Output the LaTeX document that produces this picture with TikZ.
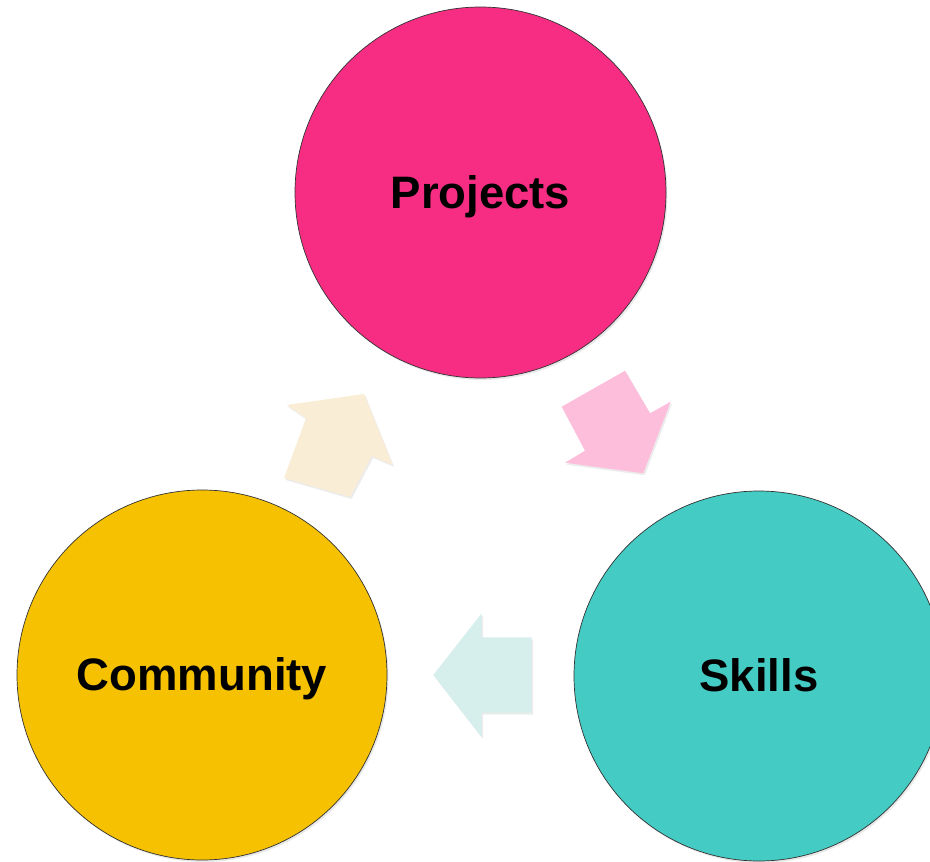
\documentclass[tikz,border=0pt]{standalone}
\usepackage{fontspec}
\setmainfont{Liberation Sans}
\usetikzlibrary{shadows}
\definecolor{projpink}{RGB}{247,45,132}
\definecolor{commyellow}{RGB}{245,193,0}
\definecolor{skillteal}{RGB}{68,203,196}
\definecolor{arrcream}{RGB}{249,237,213}
\definecolor{arrpink}{RGB}{253,190,219}
\definecolor{arrblue}{RGB}{214,238,236}
\tikzset{
  bubble/.style={circle, draw=black!80, line width=0.7pt, minimum size=#1, inner sep=0pt,
    font=\fontsize{45.5}{50}\selectfont\bfseries, text height=31pt, text depth=0pt,
    drop shadow={opacity=0.18, shadow xshift=1.5pt, shadow yshift=-2pt}},
  blockarrow/.style={fill=#1, draw=none,
    drop shadow={opacity=0.15, shadow xshift=1.5pt, shadow yshift=-2pt}}
}
\begin{document}
\begin{tikzpicture}[x=1pt,y=-1pt]
\useasboundingbox (0,0) rectangle (930,862);
\node[bubble=371pt, fill=projpink] (proj) at (480.5,192.5) {Projects};
\node[bubble=370pt, fill=commyellow] (comm) at (202,675) {Community};
\node[bubble=370pt, fill=skillteal] (skill) at (759,676) {Skills};
% Community -> Projects
\fill[blockarrow=arrcream] (364,394) -- (392.7,465) -- (371.7,456) -- (350,497) -- (284,478) -- (306,418.3) -- (286.7,405) -- cycle;
% Projects -> Skills
\fill[blockarrow=arrpink] (625,370.7) -- (650,413.3) -- (670.7,401.7) -- (643.3,473.3) -- (565,462.7) -- (585,450.7) -- (561.7,406.7) -- cycle;
% Skills -> Community
\fill[blockarrow=arrblue] (433.3,675) -- (481.7,613.3) -- (481.7,637.3) -- (531.7,637.3) -- (531.7,712.7) -- (481.7,712.7) -- (481.7,737.3) -- cycle;
\end{tikzpicture}
\end{document}
